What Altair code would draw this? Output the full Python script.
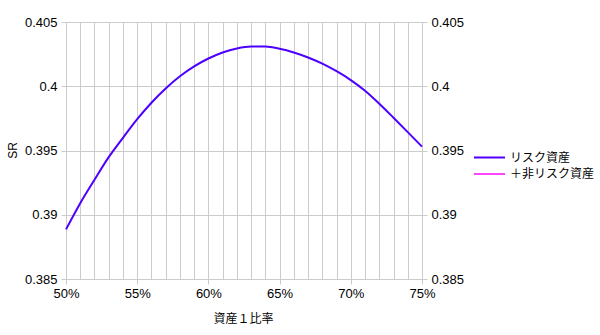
import altair as alt
import pandas as pd

# ---- data ----
ratio = [0.50, 0.51, 0.52, 0.53, 0.54, 0.55, 0.56, 0.57, 0.58, 0.59, 0.60, 0.61, 0.62,
         0.63, 0.64, 0.65, 0.66, 0.67, 0.68, 0.69, 0.70, 0.71, 0.72, 0.73, 0.74, 0.75]
sr_risky = [0.38886, 0.39090, 0.39272, 0.39448, 0.39599, 0.39744, 0.39872, 0.39983,
            0.40078, 0.40155, 0.40216, 0.40263, 0.40294, 0.40309, 0.40309, 0.40292,
            0.40263, 0.40224, 0.40176, 0.40117, 0.40048, 0.39965, 0.39864, 0.39755,
            0.39643, 0.39530]
series_names = ["リスク資産", "＋非リスク資産"]
series_colors = ["#4d00ff", "#ff44ff"]
x_tick_values = [0.50, 0.55, 0.60, 0.65, 0.70, 0.75]
x_grid_values = ratio
y_tick_values = [0.385, 0.39, 0.395, 0.4, 0.405]
x_title = "資産１比率"
y_title = "SR"

df = pd.DataFrame({"ratio": ratio, "sr": sr_risky, "series": series_names[0]})

GRID = "#cccccc"
LATIN = "Liberation Sans"
CJK = "Noto Sans CJK JP"

x_scale = alt.Scale(domain=[0.50, 0.75], nice=False, zero=False)
y_scale = alt.Scale(domain=[0.385, 0.405], nice=False, zero=False)

grid_layer = alt.Chart(df).mark_line(opacity=0).encode(
    x=alt.X("ratio:Q", scale=x_scale,
            axis=alt.Axis(values=x_grid_values, orient="bottom", grid=True,
                          gridColor=GRID, gridWidth=1, labels=False, ticks=False,
                          domain=False, title=None)),
    y=alt.Y("sr:Q", scale=y_scale,
            axis=alt.Axis(values=y_tick_values, orient="right", grid=False,
                          format="~g", labelFont=LATIN, labelFontSize=13,
                          labelColor="#000000", labelPadding=4, labelFlush=False,
                          tickColor=GRID, tickSize=5, domainColor=GRID,
                          title=None)),
)

line_layer = alt.Chart(df).mark_line(strokeWidth=2, interpolate="monotone").encode(
    x=alt.X("ratio:Q", scale=x_scale,
            axis=alt.Axis(values=x_tick_values, orient="bottom", format=".0%",
                          grid=False, labelFont=LATIN, labelFontSize=13,
                          labelColor="#000000", labelPadding=3, labelFlush=False,
                          labelOverlap=False,
                          tickColor=GRID, tickSize=5, domainColor=GRID,
                          title=x_title, titleFont=CJK, titleFontSize=12,
                          titleFontWeight="normal", titleColor="#000000",
                          titleX=177, titleY=39, titleBaseline="middle")),
    y=alt.Y("sr:Q", scale=y_scale,
            axis=alt.Axis(values=y_tick_values, orient="left", format="~g",
                          grid=True, gridColor=GRID, labelFont=LATIN,
                          labelFontSize=13, labelColor="#000000", labelPadding=4,
                          labelFlush=False,
                          tickColor=GRID, tickSize=5, domainColor=GRID,
                          title=y_title, titleFont=LATIN, titleFontSize=12,
                          titleFontWeight="normal", titleColor="#000000",
                          titleX=-54, titleY=128, titleAngle=270,
                          titleAlign="center", titleBaseline="middle")),
    color=alt.Color("series:N",
                    scale=alt.Scale(domain=series_names, range=series_colors),
                    legend=alt.Legend(title=None, orient="none", legendX=415,
                                      legendY=127, symbolType="M-2.2,0H2.2",
                                      symbolStrokeWidth=2, symbolSize=200,
                                      labelFont=CJK, labelFontSize=12,
                                      labelColor="#000000", labelOffset=12,
                                      rowPadding=1.5)),
)

chart = alt.layer(grid_layer, line_layer).resolve_axis(
    x="independent", y="independent"
).properties(
    width=356, height=257,
    autosize=alt.AutoSizeParams(type="none"),
    padding={"left": 66, "top": 22, "right": 178, "bottom": 56},
).configure_view(stroke=None)

chart.save("out.html", embed_options={"renderer": "svg", "actions": False})
